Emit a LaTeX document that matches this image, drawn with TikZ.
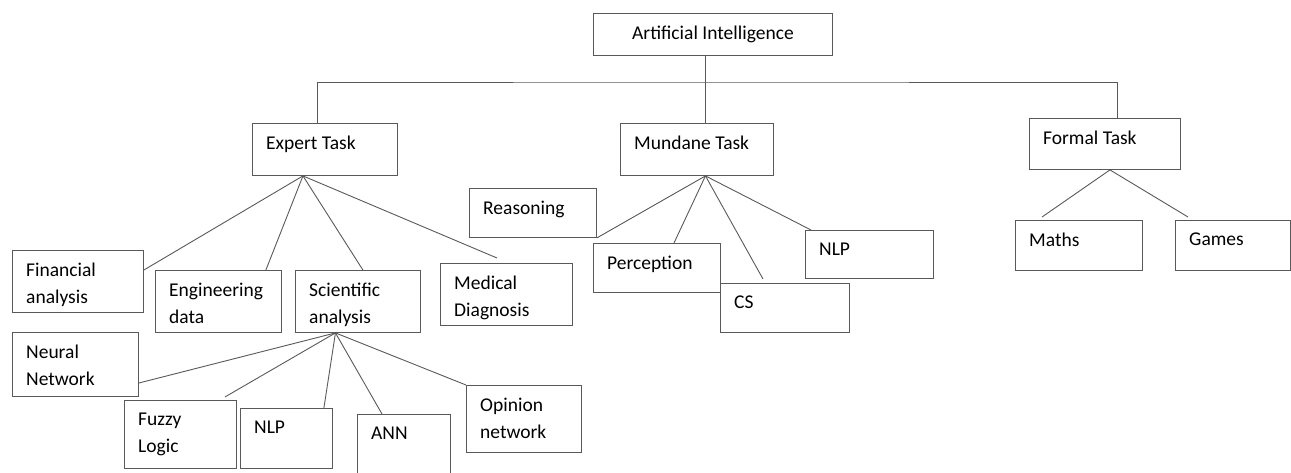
\documentclass[tikz,border=0pt]{standalone}
\usepackage{fontspec}
\setmainfont{Carlito}
\usepackage{tikz}

\begin{document}
\begin{tikzpicture}[
  x=1pt, y=-1pt,
  box/.style={rectangle, draw=black!65, line width=0.9pt, anchor=north west, inner sep=0pt,
    font=\fontsize{19.5}{27}\selectfont},
  lbl/.style={anchor=north west, inner sep=0pt, xshift=14pt, yshift=-13pt, align=left,
    font=\fontsize{19.5}{27}\selectfont},
  conn/.style={-, draw=black!65, line width=0.9pt}
  ]

\useasboundingbox (0,0) rectangle (1291,472);
\clip (0,0) rectangle (1291,472);

% top level
\node [box, minimum width=239pt, minimum height=42pt] (ai) at (593,13) {Artificial Intelligence};
\node [box, minimum width=145pt, minimum height=52pt, label={[lbl]north west:Expert Task}] (expert) at (252,123) {};
\node [box, minimum width=153pt, minimum height=52pt, label={[lbl]north west:Mundane Task}] (mundane) at (620,123) {};
\node [box, minimum width=151pt, minimum height=51pt, label={[lbl]north west:Formal Task}] (formal) at (1029,118) {};
\coordinate (bar) at (705,82);

% expert task
\node [box, minimum width=131pt, minimum height=62pt, label={[lbl]north west:{Financial\\analysis}}] (fin) at (12,250) {};
\node [box, minimum width=126pt, minimum height=62pt, label={[lbl]north west:{Engineering\\data}}] (eng) at (155,270) {};
\node [box, minimum width=125pt, minimum height=62pt, label={[lbl]north west:{Scientific\\analysis}}] (sci) at (295,270) {};
\node [box, minimum width=132pt, minimum height=62pt, label={[lbl]north west:{Medical\\Diagnosis}}] (med) at (440,263) {};

% scientific analysis
\node [box, minimum width=126pt, minimum height=64pt, label={[lbl]north west:{Neural\\Network}}] (neu) at (12,332) {};
\node [box, minimum width=112pt, minimum height=68pt, label={[lbl]north west:{Fuzzy\\Logic}}] (fuz) at (124,400) {};
\node [box, minimum width=92pt, minimum height=60pt, label={[lbl]north west:NLP}] (nlpa) at (240,408) {};
\node [box, minimum width=93pt, minimum height=64pt, label={[lbl]north west:ANN}] (ann) at (357,414) {};
\node [box, minimum width=115pt, minimum height=67pt, label={[lbl]north west:{Opinion\\network}}] (opi) at (466,385) {};

% mundane task
\node [box, minimum width=127pt, minimum height=49pt, label={[lbl]north west:Reasoning}] (rea) at (469,188) {};
\node [box, minimum width=127pt, minimum height=49pt, label={[lbl]north west:Perception}] (per) at (593,243) {};
\node [box, minimum width=129pt, minimum height=49pt, label={[lbl]north west:CS}] (cs) at (720,283) {};
\node [box, minimum width=128pt, minimum height=48pt, label={[lbl]north west:NLP}] (nlpb) at (805,230) {};

% formal task
\node [box, minimum width=127pt, minimum height=50pt, label={[lbl]north west:Maths}] (mat) at (1015,220) {};
\node [box, minimum width=115pt, minimum height=50pt, label={[lbl]north west:Games}] (gam) at (1175,220) {};

% tree lines
\draw [conn] ([xshift=-7.5pt]ai.south) -- ([xshift=8.5pt]mundane.north);
\draw [conn] ([xshift=-7.5pt]expert.north) |- (bar) -| ([xshift=12.5pt]formal.north);

\draw [conn] ([xshift=-22pt]expert.south) -- ([yshift=-20pt]fin.north east);
\draw [conn] ([xshift=-22pt]expert.south) -- ([xshift=-16pt]eng.north east);
\draw [conn] ([xshift=-22pt]expert.south) -- ([xshift=-58pt]sci.north east);
\draw [conn] ([xshift=-22pt]expert.south) -- ([shift={(57pt,5pt)}]med.north west);

\draw [conn] ([xshift=-22.5pt]sci.south) -- ([yshift=-51pt]neu.north east);
\draw [conn] ([xshift=-22.5pt]sci.south) -- ([shift={(-12pt,3pt)}]fuz.north east);
\draw [conn] ([xshift=-22.5pt]sci.south) -- ([xshift=-9pt]nlpa.north east);
\draw [conn] ([xshift=-22.5pt]sci.south) -- ([xshift=25pt]ann.north west);
\draw [conn] ([xshift=-22.5pt]sci.south) -- (opi.north west);

\draw [conn] ([xshift=8.5pt]mundane.south) -- (rea.south east);
\draw [conn] ([xshift=8.5pt]mundane.south) -- ([xshift=81pt]per.north west);
\draw [conn] ([xshift=8.5pt]mundane.south) -- ([shift={(43pt,4pt)}]cs.north west);
\draw [conn] ([xshift=8.5pt]mundane.south) -- ([xshift=6pt]nlpb.north west);

\draw [conn] ([xshift=5pt]formal.south) -- ([shift={(27pt,3pt)}]mat.north west);
\draw [conn] ([xshift=5pt]formal.south) -- ([shift={(13pt,3pt)}]gam.north west);

\end{tikzpicture}
\end{document}
